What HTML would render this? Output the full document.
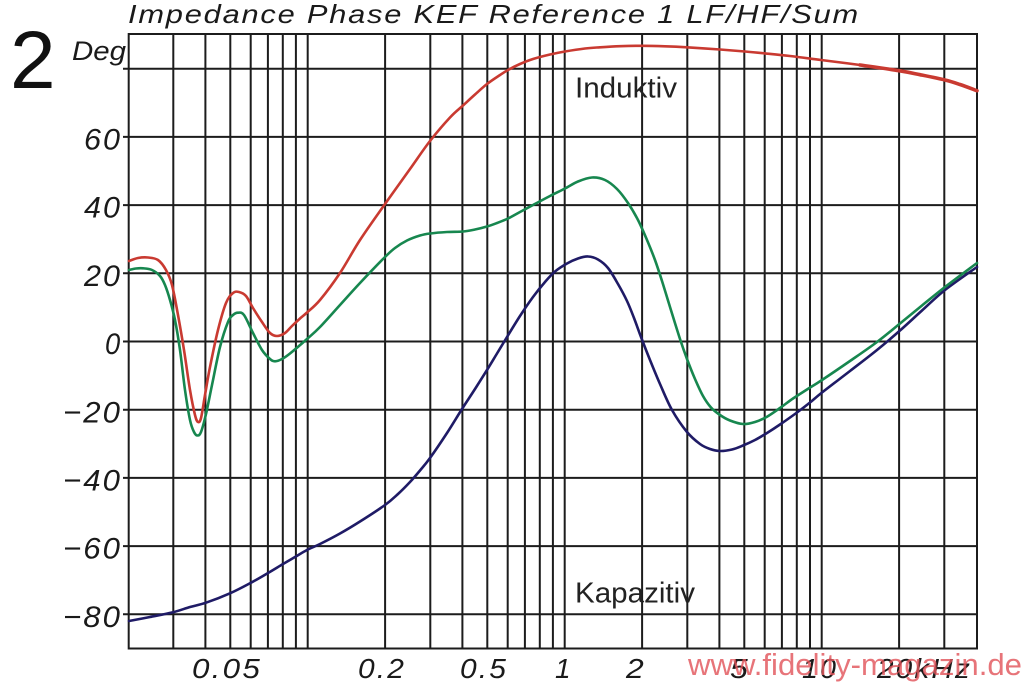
<!DOCTYPE html>
<html><head><meta charset="utf-8"><style>
html,body{margin:0;padding:0;background:#fff;}
svg{display:block;}
text{font-family:"Liberation Sans",sans-serif;}
</style></head><body>
<svg id="s" width="1024" height="683" viewBox="0 0 1024 683" xmlns="http://www.w3.org/2000/svg">
<rect width="1024" height="683" fill="#fff"/>
<!-- title -->
<text x="128" y="23" font-size="26" font-style="italic" letter-spacing="1.5" fill="#1a1a1a" textLength="732" lengthAdjust="spacingAndGlyphs">Impedance Phase KEF Reference 1 LF/HF/Sum</text>
<text x="10" y="88" font-size="82" fill="#111">2</text>
<text x="72" y="60" font-size="27" font-style="italic" fill="#1a1a1a" textLength="54" lengthAdjust="spacingAndGlyphs">Deg</text>
<!-- grid -->
<g stroke="#1c1c1c" stroke-width="2" fill="none">
<path d="M123 68.7H977M123 136.9H977M123 205.1H977M123 273.3H977M123 341.5H977M123 409.7H977M123 477.9H977M123 546.1H977M123 614.3H977"/>
<path d="M173.3 34V648.5M205.4 34V648.5M230.3 34V648.5M250.7 34V648.5M267.9 34V648.5M282.8 34V648.5M295.9 34V648.5M307.7 34V648.5M385.1 34V648.5M430.3 34V648.5M462.4 34V648.5M487.3 34V648.5M507.7 34V648.5M524.9 34V648.5M539.8 34V648.5M552.9 34V648.5M564.7 34V648.5M642.1 34V648.5M687.3 34V648.5M719.4 34V648.5M744.3 34V648.5M764.7 34V648.5M781.9 34V648.5M796.8 34V648.5M810 34V648.5M821.7 34V648.5M899.1 34V648.5M944.3 34V648.5"/>
<rect x="128.7" y="34" width="848.3" height="614.5"/>
</g>
<!-- curves -->
<g fill="none" stroke-width="2.6" stroke-linejoin="round" stroke-linecap="round">
<polyline class="c" stroke="#1f1b66" points="129,621 150,617 173,612.3 190,607 206,602.7 230,593.3 251,582.7 268,573 283,564 295,557 307,550 320,544 340,533.5 360,521.5 385,505 398,494 410,482 420,470.5 430,458 447,433 462,409 475,389 487,370 497,353.5 507,337 520,316 533,297 545,282 555,271.5 567,263.5 578,258.5 588,256.5 598,259.5 608,268 618,284 627,301 634,318 641,337 650,360 660,384 672,410 687,432 700,444 710,449 720,451 732,449.5 743,445.5 755,440 767,433 780,424.5 797,412.5 810,402.5 822,392.5 850,371 877,350 900,330.5 922,310.5 945,290 977,267"/>
<polyline class="c" stroke="#17874f" points="129,270 136,268.5 143,268.3 152,270 160,276 165,285 170,300 175,320 180,350 185,390 190,420 194,432 197.5,435.5 201,432 206,414 212,385 220,347 228,322 233,315 238,312.7 244,315 253,333 262,350 270,359 275,361.3 282,359 290,353.5 307,339 320,327 340,305 360,283 385,257 395,248 407,240.5 420,235.5 430,233.5 447,232 463,231.5 475,229.5 487,226.5 497,223 508,218.5 520,212 533,205 550,196 565,188.5 578,181.5 592,177.5 605,180 617,189 628,203 638,220 647,240 655,260 662,281 670,307 680,339 687,359 695,379 703,396 711,407.5 720,415 730,420.5 743,424 755,422 767,416.7 780,408 793,398.5 807,389.5 822,380 850,361 877,342 900,323.5 922,305.5 945,287 977,263"/>
<polyline class="c" stroke="#c93a31" points="129,261 138,258 148,257.5 158,260 166,270 172,285 178,315 184,350 190,390 195,415 198,422 201,418 205,395 210,367 218,330 226,303 233,293 239,292 246,296 253,308 262,322 270,333 277,336 285,333 292,326 300,318.5 307,312.5 320,300 340,273 360,240 385,204 410,169 430,141 450,117.5 463,105.5 475,94.5 487,84 500,75 508,70 520,64 533,59 550,54.5 565,51.5 585,48.5 600,47.3 620,46.2 642,45.8 665,46.3 687,47.3 720,49.5 745,51.5 764,53.3 790,56 821,60 860,65 899,70.7 920,74.7 945,80 960,84.5 977,90.7"/>
<polyline class="c" stroke="#c93a31" stroke-width="3.6" points="860,65 899,70.7 920,74.7 945,80 960,84.5 977,90.7"/>
</g>
<!-- y labels -->
<g font-size="30" font-style="italic" fill="#1a1a1a" text-anchor="end" letter-spacing="2">
<text x="122" y="149.5" textLength="38" lengthAdjust="spacingAndGlyphs">60</text>
<text x="122" y="217.7" textLength="38" lengthAdjust="spacingAndGlyphs">40</text>
<text x="122" y="285.9" textLength="38" lengthAdjust="spacingAndGlyphs">20</text>
<text x="122" y="354.1" textLength="17" lengthAdjust="spacingAndGlyphs">0</text>
<text x="122" y="422.3" textLength="59" lengthAdjust="spacingAndGlyphs">−20</text>
<text x="122" y="490.5" textLength="59" lengthAdjust="spacingAndGlyphs">−40</text>
<text x="122" y="558.7" textLength="59" lengthAdjust="spacingAndGlyphs">−60</text>
<text x="122" y="626.9" textLength="59" lengthAdjust="spacingAndGlyphs">−80</text>
</g>
<!-- x labels -->
<g font-size="28" font-style="italic" fill="#1a1a1a" letter-spacing="2">
<text x="192" y="678" textLength="70" lengthAdjust="spacingAndGlyphs">0.05</text>
<text x="358" y="678" textLength="48" lengthAdjust="spacingAndGlyphs">0.2</text>
<text x="460" y="678" textLength="48" lengthAdjust="spacingAndGlyphs">0.5</text>
<text x="555" y="678">1</text>
<text x="626" y="678" textLength="20" lengthAdjust="spacingAndGlyphs">2</text>
<text x="730" y="678" textLength="20" lengthAdjust="spacingAndGlyphs">5</text>
<text x="802" y="678" textLength="36" lengthAdjust="spacingAndGlyphs">10</text>
<text x="877" y="678" textLength="95" lengthAdjust="spacingAndGlyphs">20kHz</text>
</g>
<text x="575" y="97.5" font-size="29" fill="#222" textLength="102" lengthAdjust="spacingAndGlyphs">Induktiv</text>
<text x="575" y="602.5" font-size="29" fill="#222" textLength="120" lengthAdjust="spacingAndGlyphs">Kapazitiv</text>
<!-- watermark -->
<text x="688" y="675" font-size="31" fill="#e2555c" fill-opacity="0.82" textLength="334" lengthAdjust="spacingAndGlyphs">www.fidelity-magazin.de</text>
</svg>
<script>
(function(){
var ns="http://www.w3.org/2000/svg";
var pls=document.querySelectorAll("polyline.c");
for(var k=0;k<pls.length;k++){
var pl=pls[k];
var nums=pl.getAttribute("points").trim().split(/[\s,]+/).map(Number);
var p=[];for(var i=0;i<nums.length;i+=2)p.push([nums[i],nums[i+1]]);
var d="M"+p[0][0]+" "+p[0][1];
for(var i=0;i<p.length-1;i++){
var p0=p[i>0?i-1:i],p1=p[i],p2=p[i+1],p3=p[i+2<p.length?i+2:i+1];
var c1x=p1[0]+(p2[0]-p0[0])/6,c1y=p1[1]+(p2[1]-p0[1])/6;
var c2x=p2[0]-(p3[0]-p1[0])/6,c2y=p2[1]-(p3[1]-p1[1])/6;
d+=" C"+c1x.toFixed(2)+" "+c1y.toFixed(2)+" "+c2x.toFixed(2)+" "+c2y.toFixed(2)+" "+p2[0]+" "+p2[1];
}
var path=document.createElementNS(ns,"path");
path.setAttribute("d",d);
path.setAttribute("stroke",pl.getAttribute("stroke"));
if(pl.getAttribute("stroke-width"))path.setAttribute("stroke-width",pl.getAttribute("stroke-width"));
pl.parentNode.replaceChild(path,pl);
}
})();
</script>
</body></html>
